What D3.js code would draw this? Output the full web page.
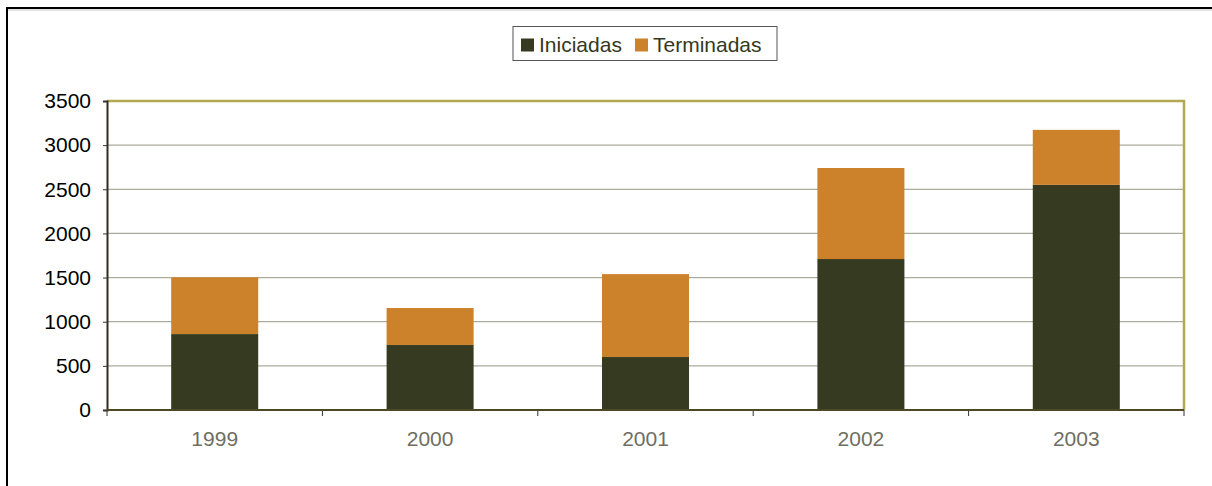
<!DOCTYPE html>
<html lang="es">
<head>
<meta charset="utf-8">
<title>Iniciadas y Terminadas</title>
<script src="https://cdn.jsdelivr.net/npm/d3@7"></script>
<style>
  body {
    margin: 0;
    background: #fff;
    font-family: Arial, "Liberation Sans", sans-serif;
  }
  .ylab text { fill: #000; font-size: 21px; }
  .xlab text { fill: #6e6e62; font-size: 21px; }
  .legend text { fill: #35381e; font-size: 21px; }
</style>
</head>
<body>
<div id="chart"></div>
<script>

// data
const years = ["1999", "2000", "2001", "2002", "2003"]
const iniciadas = [860, 736, 600, 1710, 2550]
const terminadas = [643, 419, 939, 1031, 623]
const yTicks = [0, 500, 1000, 1500, 2000, 2500, 3000, 3500]
const seriesNames = ["Iniciadas", "Terminadas"]
const seriesColors = ["#363a20", "#cc812b"]

const width = 1212, height = 486
const plot = { left: 107, right: 1184, top: 101, bottom: 410 }

const svg = d3.select("#chart").append("svg")
    .attr("width", width)
    .attr("height", height)

// outer frame (runs past the right and bottom edge)
svg.append("line")
    .attr("x1", 8).attr("x2", width).attr("y1", 10).attr("y2", 10)
    .attr("stroke", "#c8c8c8").attr("stroke-width", 1)
svg.append("rect")
    .attr("x", 7).attr("y", 8)
    .attr("width", width + 20).attr("height", height + 20)
    .attr("fill", "none").attr("stroke", "#000").attr("stroke-width", 2)

const x = d3.scaleBand()
    .domain(years)
    .range([plot.left, plot.right])
    .paddingInner(0.596)
    .paddingOuter(0.298)

const y = d3.scaleLinear()
    .domain([0, 3500])
    .range([plot.bottom, plot.top])

// gridlines
svg.append("g")
    .selectAll("line")
    .data(yTicks.filter(d => d > 0 && d < 3500))
    .join("line")
    .attr("x1", plot.left).attr("x2", plot.right)
    .attr("y1", d => y(d)).attr("y2", d => y(d))
    .attr("stroke", "#abab9c").attr("stroke-width", 1.2)

// stacked bars
const rows = years.map((yr, i) => ({ year: yr, Iniciadas: iniciadas[i], Terminadas: terminadas[i] }))
const stack = d3.stack().keys(seriesNames)(rows)

svg.append("g")
    .selectAll("g")
    .data(stack)
    .join("g")
    .attr("fill", (d, i) => seriesColors[i])
    .selectAll("rect")
    .data(d => d)
    .join("rect")
    .attr("x", d => x(d.data.year))
    .attr("width", x.bandwidth())
    .attr("y", d => y(d[1]))
    .attr("height", d => y(d[0]) - y(d[1]))

// top and right border of plot area
svg.append("path")
    .attr("d", "M" + plot.left + "," + y(3500) + "H" + plot.right + "V" + plot.bottom)
    .attr("fill", "none").attr("stroke", "#b3a852").attr("stroke-width", 2.5)

// y axis
svg.append("g")
    .attr("class", "ylab")
    .attr("transform", "translate(" + plot.left + ",0)")
    .call(d3.axisLeft(y).tickValues(yTicks).tickSize(4).tickPadding(12).tickFormat(d3.format("d")))
    .call(g => g.select(".domain").attr("stroke", "#2f2f1f").attr("stroke-width", 2))
    .call(g => g.selectAll(".tick line").attr("stroke", "#333"))
    .call(g => g.selectAll("text").attr("font-family", "Arial, 'Liberation Sans', sans-serif").attr("font-size", 21))

// x axis: labels in the middle, tick marks on the band edges
svg.append("g")
    .attr("class", "xlab")
    .attr("transform", "translate(0," + plot.bottom + ")")
    .call(d3.axisBottom(x).tickSize(0).tickPadding(21))
    .call(g => g.select(".domain").remove())
    .call(g => g.selectAll("text").attr("font-family", "Arial, 'Liberation Sans', sans-serif").attr("font-size", 21))

const edges = d3.range(years.length + 1).map(i => plot.left + i * x.step())
svg.append("g")
    .selectAll("line")
    .data(edges)
    .join("line")
    .attr("x1", d => d).attr("x2", d => d)
    .attr("y1", plot.bottom).attr("y2", plot.bottom + 6)
    .attr("stroke", "#333").attr("stroke-width", 1)

svg.append("line")
    .attr("x1", plot.left).attr("x2", plot.right)
    .attr("y1", plot.bottom).attr("y2", plot.bottom)
    .attr("stroke", "#4d4724").attr("stroke-width", 2)

// legend
const legend = svg.append("g").attr("class", "legend")
legend.append("rect")
    .attr("x", 513).attr("y", 26.5)
    .attr("width", 264).attr("height", 34)
    .attr("fill", "#fff").attr("stroke", "#555").attr("stroke-width", 1)

const legendX = [521, 635]
seriesNames.forEach((name, i) => {
  legend.append("rect")
      .attr("x", legendX[i]).attr("y", 38.5)
      .attr("width", 13).attr("height", 13)
      .attr("fill", seriesColors[i])
  legend.append("text")
      .attr("x", legendX[i] + 18).attr("y", 51.5)
      .text(name)
})

</script>
</body>
</html>
